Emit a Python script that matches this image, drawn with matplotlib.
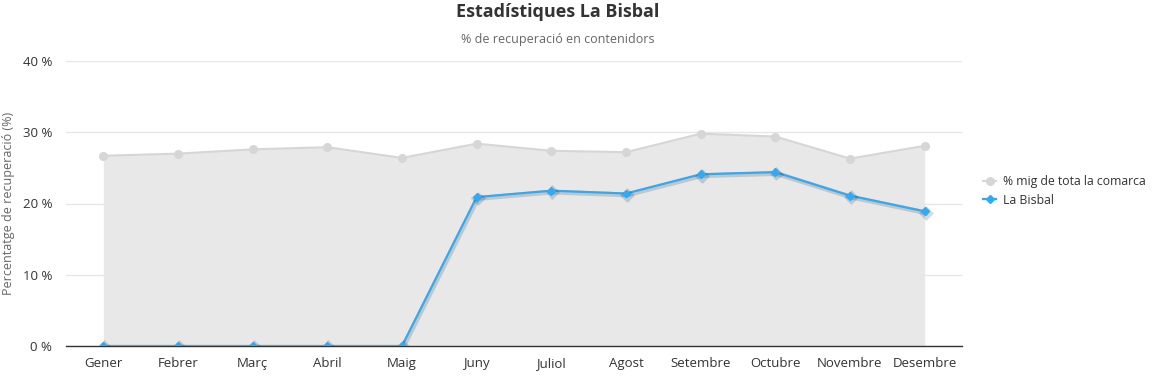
import numpy as np
import matplotlib
matplotlib.use('Agg')
from matplotlib import pyplot as plt
from matplotlib import patheffects as pe
from matplotlib.lines import Line2D

mesos = ['Gener', 'Febrer', 'Març', 'Abril', 'Maig', 'Juny', 'Juliol',
         'Agost', 'Setembre', 'Octubre', 'Novembre', 'Desembre']
comarca = [26.7, 27.0, 27.6, 27.9, 26.4, 28.4, 27.4, 27.2, 29.8, 29.4, 26.3, 28.1]
bisbal = [0, 0, 0, 0, 0, 20.9, 21.8, 21.4, 24.1, 24.4, 21.1, 18.9]
yticks = [0, 10, 20, 30, 40]

plt.rcParams['font.family'] = ['Open Sans', 'DejaVu Sans']

fig = plt.figure(figsize=(11.57, 3.79), dpi=100)
ax = fig.add_axes([66 / 1157, 33 / 379, (962 - 66) / 1157, (346 - 61) / 379])

x = np.arange(len(mesos))
ax.fill_between(x, 0, comarca, color='#e8e8e8', lw=0, zorder=1)
ax.plot(x, comarca, color='#d6d6d6', lw=1.5, marker='o', ms=5.5,
        mfc='#d6d6d6', mec='#d6d6d6', zorder=3)
ax.plot(x, bisbal, color='#2eaaf7', lw=1.6, marker='D', ms=4,
        mfc='#2eaaf7', mec='#2eaaf7', zorder=4,
        path_effects=[pe.SimpleLineShadow(offset=(0.8, -1), shadow_color='black', alpha=0.15, linewidth=3.5),
                      pe.Normal()])

ax.set_xlim(-0.5, 11.5)
ax.set_ylim(0, 40)
ax.set_yticks(yticks)
ax.set_yticklabels([f'{v} %' for v in yticks])
ax.set_xticks(x)
ax.set_xticklabels(mesos)
ax.grid(axis='y', color='#e6e6e6', lw=1)
ax.set_axisbelow(True)
for s in ['top', 'right', 'left']:
    ax.spines[s].set_visible(False)
ax.spines['bottom'].set_color('#333333')
ax.spines['bottom'].set_linewidth(1)
ax.tick_params(axis='both', length=0, labelsize=9.5, colors='#333333')
ax.tick_params(axis='x', pad=8)
ax.tick_params(axis='y', pad=10)

fig.text(9 / 1157, 1 - 203 / 379, 'Percentatge de recuperació (%)', rotation=90,
         ha='center', va='center', color='#666666', fontsize=9)
fig.text(558 / 1157, 1 - 12 / 379, 'Estadístiques La Bisbal', ha='center', va='center',
         fontsize=13, fontweight='bold', color='#333333')
fig.text(558 / 1157, 1 - 39 / 379, '% de recuperació en contenidors', ha='center', va='center',
         fontsize=9, color='#666666')

handles = [Line2D([], [], color='#d6d6d6', lw=1.5, marker='o', ms=5.5),
           Line2D([], [], color='#2eaaf7', lw=1.6, marker='D', ms=4)]
fig.legend(handles, ['% mig de tota la comarca', 'La Bisbal'], loc='center left',
           bbox_to_anchor=(972 / 1157, 1 - 191 / 379), frameon=False, fontsize=8.8,
           handlelength=1.1, handletextpad=0.5, labelspacing=0.45, labelcolor='#333333')

fig.savefig('out.png', dpi=100)
